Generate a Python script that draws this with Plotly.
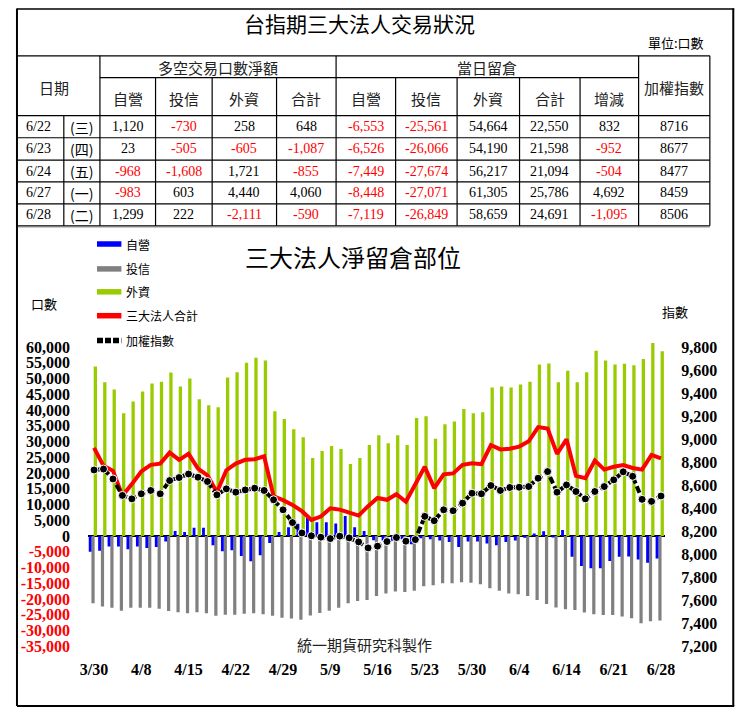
import plotly.graph_objects as go

W, H = 746, 712

# ---------------- chart data ----------------
dates = ["3/30", "3/31", "4/1", "4/6", "4/7", "4/8", "4/11", "4/12", "4/13", "4/14", "4/15",
         "4/18", "4/19", "4/20", "4/21", "4/22", "4/25", "4/26", "4/27", "4/28", "4/29",
         "5/3", "5/4", "5/5", "5/6", "5/9", "5/10", "5/11", "5/12", "5/13", "5/16",
         "5/17", "5/18", "5/19", "5/20", "5/23", "5/24", "5/25", "5/26", "5/27", "5/30",
         "5/31", "6/1", "6/2", "6/3", "6/4", "6/7", "6/8", "6/9", "6/10", "6/14",
         "6/15", "6/16", "6/17", "6/20", "6/21", "6/22", "6/23", "6/24", "6/27", "6/28"]

dealer = [-5000, -4700, -3300, -3300, -4200, -3300, -3800, -3500, -1700, 1600, 1300,
          2600, 2600, -2900, -4800, -4500, -6300, -8000, -6100, -2200, 1300,
          2800, 3900, 5800, 4400, 4400, 4000, 6400, 2800, 1600, -1300,
          -1400, -1500, -1000, -2600, -700, -1000, -1400, -1900, -3500, -1700,
          -1700, -2400, -2900, -1900, -1400, -500, 800, 1500, -400, 1900,
          -6600, -9500, -10200, -10200, -7900, -6553, -6526, -7449, -8448, -7119]

trust = [-21300, -22400, -22800, -23700, -22800, -22800, -22800, -23100, -23800, -24200, -24500,
         -24200, -24500, -25300, -25000, -25000, -24700, -24500, -24800, -25300, -25900,
         -26200, -26600, -25200, -24400, -23700, -22800, -21300, -20600, -20300, -19000,
         -18200, -17600, -17800, -17400, -15900, -15600, -15000, -15000, -14700, -14800,
         -15300, -16600, -17400, -18200, -18500, -19000, -20300, -21600, -22700, -23200,
         -23500, -24300, -24800, -25100, -25100, -25561, -26066, -27674, -27071, -26849]

foreign = [53800, 48800, 46500, 39000, 42700, 45900, 48400, 49000, 51900, 47500, 50000,
           43400, 41500, 40900, 50300, 52000, 55000, 56600, 55700, 39600, 37200,
           33900, 31400, 24800, 27000, 28600, 27600, 22900, 24800, 28900, 32000,
           29500, 32000, 28900, 37500, 38000, 30900, 35500, 36400, 40300, 39000,
           39300, 47200, 47500, 47200, 48100, 49000, 54500, 54800, 48800, 52500,
           48800, 52000, 58800, 55700, 54500, 54664, 54190, 56217, 61305, 58659]

total = [28000, 22300, 20700, 12800, 16500, 20500, 22600, 23000, 26500, 24200, 26100,
         21400, 19300, 13900, 20900, 23000, 24200, 24400, 25300, 12600, 11400,
         9900, 7900, 5100, 6200, 8800, 8400, 7600, 6500, 9500, 12100,
         11500, 13300, 10900, 16500, 22000, 15200, 19600, 19900, 22600, 23100,
         22800, 28900, 27500, 27700, 28400, 30100, 34600, 34100, 26100, 30700,
         19100, 18400, 24000, 21100, 22000, 22550, 21598, 21094, 25786, 24691]

taiex = [8732, 8740, 8654, 8511, 8481, 8525, 8554, 8525, 8640, 8666, 8697,
         8669, 8632, 8516, 8568, 8539, 8559, 8574, 8554, 8473, 8386,
         8275, 8185, 8160, 8148, 8136, 8157, 8142, 8107, 8055, 8070,
         8110, 8145, 8113, 8127, 8329, 8291, 8386, 8378, 8444, 8530,
         8525, 8597, 8554, 8580, 8582, 8588, 8660, 8718, 8539, 8602,
         8545, 8481, 8545, 8588, 8646, 8716, 8677, 8477, 8459, 8506]

tick_dates = ["3/30", "4/8", "4/15", "4/22", "4/29", "5/9", "5/16", "5/23",
              "5/30", "6/4", "6/14", "6/21", "6/28"]
left_ticks = list(range(-35000, 60001, 5000))
right_ticks = list(range(7200, 9801, 200))

# ---------------- table data ----------------
tbl_dates = ["6/22", "6/23", "6/24", "6/27", "6/28"]
tbl_weekdays = ["(三)", "(四)", "(五)", "(一)", "(二)"]
net_dealer = [1120, 23, -968, -983, 1299]
net_trust = [-730, -505, -1608, 603, 222]
net_foreign = [258, -605, 1721, 4440, -2111]
net_total = [648, -1087, -855, 4060, -590]
oi_dealer = [-6553, -6526, -7449, -8448, -7119]
oi_trust = [-25561, -26066, -27674, -27071, -26849]
oi_foreign = [54664, 54190, 56217, 61305, 58659]
oi_total = [22550, 21598, 21094, 25786, 24691]
oi_change = [832, -952, -504, 4692, -1095]
tbl_index = [8716, 8677, 8477, 8459, 8506]

sub_headers = ["自營", "投信", "外資", "合計", "自營", "投信", "外資", "合計", "增減"]
legend_names = ["自營", "投信", "外資", "三大法人合計", "加權指數"]

# ---------------- helpers (screen pixel -> paper) ----------------
OX, OY = 8.0, 8.0      # page offset of the figure (body margin)
SX, SY = 746.0, 712.0  # figure size

def px(x):
    return (x - OX) / SX

def py(y):
    return 1 - (y - OY) / SY

CJK = "Noto Sans CJK TC"
SERIF = "Liberation Serif"

annotations = []
shapes = []

def ann(text, x, y, size, family=CJK, color="black", xanchor="center"):
    annotations.append(dict(text=text, x=px(x), y=py(y), xref="paper", yref="paper",
                            showarrow=False, xanchor=xanchor, yanchor="middle",
                            font=dict(family=family, size=size, color=color)))

def hline(y, x0, x1, width=1.2, color="black", dash=None):
    ln = dict(color=color, width=width)
    if dash:
        ln["dash"] = dash
    shapes.append(dict(type="line", xref="paper", yref="paper", x0=px(x0), x1=px(x1),
                       y0=py(y), y1=py(y), line=ln))

def vline(x, y0, y1, width=1.2, color="black"):
    shapes.append(dict(type="line", xref="paper", yref="paper", x0=px(x), x1=px(x),
                       y0=py(y0), y1=py(y1), line=dict(color=color, width=width)))

# ---------------- figure ----------------
fig = go.Figure()
fig.add_bar(x=dates, y=foreign, marker=dict(color="#99CC00", line=dict(width=0)),
            width=0.35, offset=-0.04, name="外資")
fig.add_bar(x=dates, y=trust, marker=dict(color="#808080", line=dict(width=0)),
            width=0.34, offset=-0.28, name="投信")
fig.add_bar(x=dates, y=dealer, marker=dict(color="#0000FF", line=dict(width=0)),
            width=0.3, offset=-0.57, name="自營")
fig.add_scatter(x=dates, y=total, mode="lines", name="三大法人合計",
                line=dict(color="#FF0000", width=4))
fig.add_scatter(x=dates, y=taiex, yaxis="y2", mode="lines+markers", name="加權指數",
                line=dict(color="black", width=4, dash="7px,3px"),
                marker=dict(size=8, color="black", line=dict(color="white", width=1)))

# ---------------- table drawing ----------------
cols = [0, 57, 94, 151, 209, 275, 336, 397, 460, 524, 586, 646, 719]
rows = [116, 138.3, 160.7, 182.7, 204.7, 226.7]

# outer frame (at the visible edges of the figure)
vline(9, 8.5, 709, width=2)
vline(743, 8.5, 709, width=2)
hline(709, 9, 744, width=2)
hline(9, 9, 744, width=1.5)

hline(56, 9, 719)
hline(78, 94, 646)
for r in rows:
    hline(r, 9, 719)
vline(57, 116, 226.7)
for c in [94, 336, 646, 719]:
    vline(c, 56, 226.7)
for c in [151, 209, 275, 397, 460, 524, 586]:
    vline(c, 78, 226.7)
hline(228.5, 10, 719, width=1, color="#C8C8C8")

ann("台指期三大法人交易狀況", 360, 23, 21)
ann("單位:口數", 715, 43, 13, xanchor="right")
ann("日期", 47, 88, 15, color="#222222")
ann("多空交易口數淨額", 215, 68, 15, color="#222222")
ann("當日留倉", 491, 68, 15, color="#222222")
ann("加權指數", 682, 88, 15, color="#222222")
for i, h in enumerate(sub_headers):
    cx = (cols[i + 2] + cols[i + 3]) / 2
    ann(h, cx, 99, 15, color="#222222")

centers = [(cols[i] + cols[i + 1]) / 2 for i in range(len(cols) - 1)]
centers[0] = 31
row_centers = [(rows[i] + rows[i + 1]) / 2 for i in range(len(rows) - 1)]
num_cols = [net_dealer, net_trust, net_foreign, net_total,
            oi_dealer, oi_trust, oi_foreign, oi_total, oi_change]
for r in range(5):
    yc = row_centers[r]
    ann(tbl_dates[r], centers[0], yc, 14, family=SERIF)
    ann(tbl_weekdays[r], centers[1], yc, 14)
    for k, arr in enumerate(num_cols):
        v = arr[r]
        ann(f"{v:,}", centers[k + 2], yc, 14, family=SERIF,
            color="#FF0000" if v < 0 else "black")
    ann(str(tbl_index[r]), centers[11], yc, 14, family=SERIF)

# ---------------- chart decorations ----------------
ann("三大法人淨留倉部位", 353, 258, 24)
ann("口數", 37, 305, 13)
ann("指數", 683, 313, 13)
ann("統一期貨研究科製作", 365, 647, 15, color="#222222")

leg_y = [245, 270, 293, 317, 342]
leg_col = ["#0000FF", "#808080", "#99CC00", "#FF0000", "black"]
for i in range(5):
    hline(leg_y[i], 91, 116, width=5.5, color=leg_col[i], dash="6px,2px" if i == 4 else None)
    ann(legend_names[i], 119, leg_y[i], 12, xanchor="left")

def left_label(v):
    t = f"{v:,}"
    return f'<span style="color:#FF0000">{t}</span>' if v < 0 else t

# plot area in screen pixels
X0, X1 = 82, 673
YT, YB = 340, 655
lpp = 95000 / 300.5
rpp = 2600 / 301.0
y_range = [-35000 - (YB - 649) * lpp, 60000 + (348.5 - YT) * lpp]
y2_range = [7200 - (YB - 649) * rpp, 9800 + (348.5 - YT) * rpp]

fig.update_layout(
    width=W, height=H,
    margin=dict(l=0, r=0, t=0, b=0),
    paper_bgcolor="white", plot_bgcolor="white",
    barmode="overlay",
    showlegend=False,
    xaxis=dict(domain=[px(X0), px(X1)], type="category", range=[-0.62, 60.42],
               tickmode="array", tickvals=tick_dates, ticktext=tick_dates,
               tickfont=dict(family=SERIF, size=16, color="black", weight="bold"),
               showgrid=False, showline=False, zeroline=False,
               ticks="outside", ticklen=3, tickcolor="rgba(0,0,0,0)"),
    yaxis=dict(domain=[py(YB), py(YT)], range=y_range,
               tickmode="array", tickvals=left_ticks,
               ticktext=[left_label(v) for v in left_ticks],
               tickfont=dict(family=SERIF, size=16, color="black", weight="bold"),
               showgrid=False, showline=False,
               zeroline=True, zerolinecolor="black", zerolinewidth=2,
               ticks="outside", ticklen=14, tickcolor="rgba(0,0,0,0)"),
    yaxis2=dict(overlaying="y", side="right", range=y2_range,
                tickmode="array", tickvals=right_ticks,
                ticktext=[f"{v:,}" for v in right_ticks],
                tickfont=dict(family=SERIF, size=16, color="black", weight="bold"),
                showgrid=False, showline=False, zeroline=False,
                ticks="outside", ticklen=12, tickcolor="rgba(0,0,0,0)"),
    annotations=annotations,
    shapes=shapes,
)

fig.write_html("out.html", config={"displayModeBar": False})
